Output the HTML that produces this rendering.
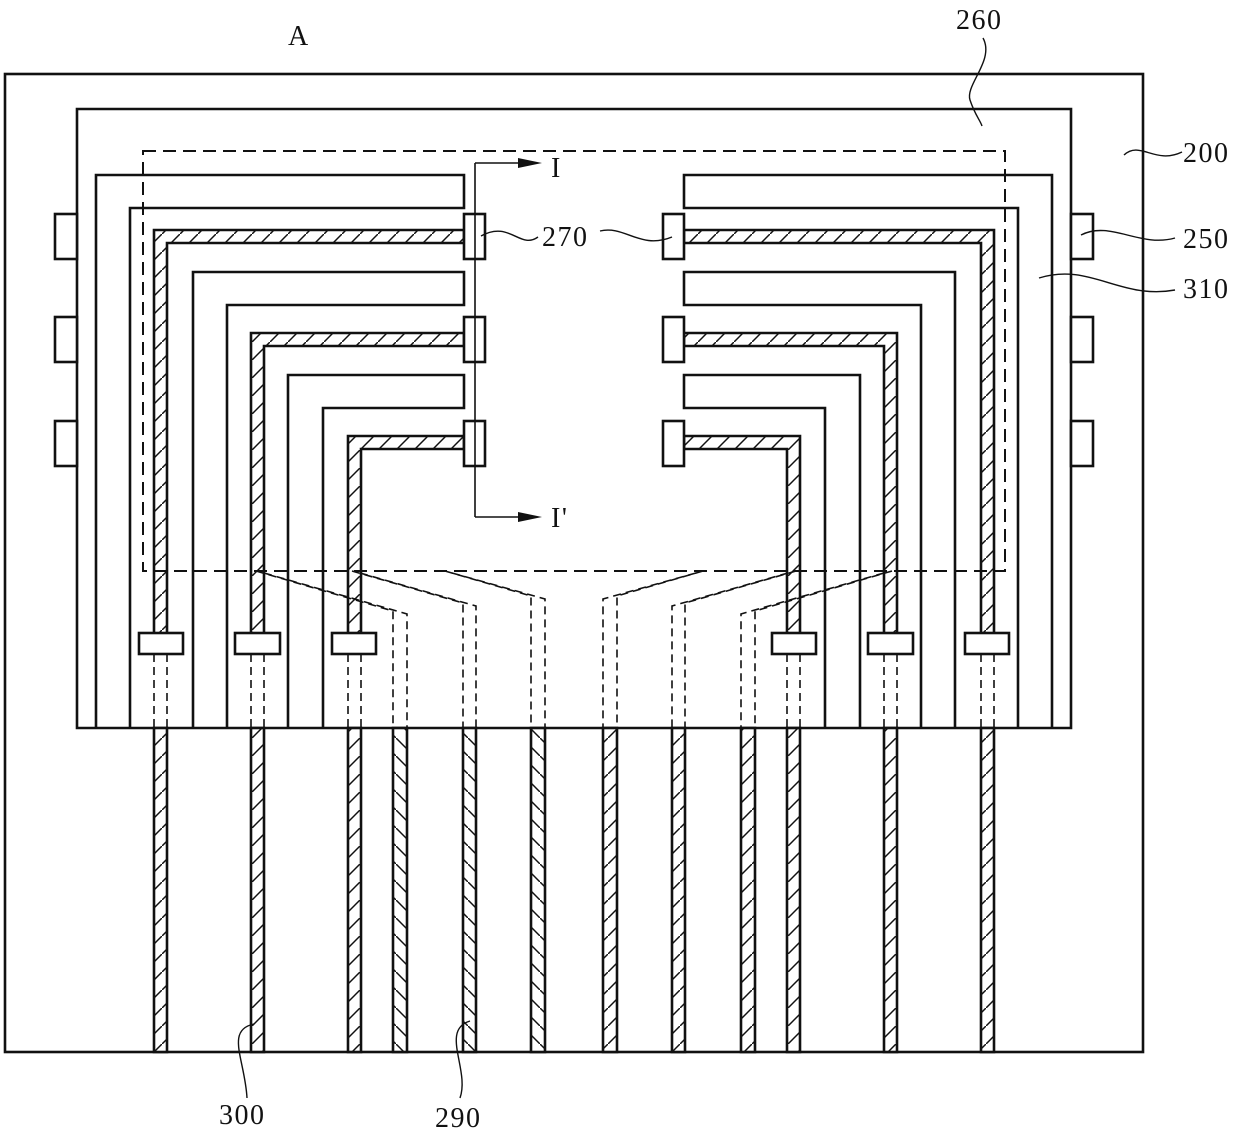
<!DOCTYPE html>
<html><head><meta charset="utf-8"><style>
html,body{margin:0;padding:0;background:#fff;}
svg{display:block;}
text{font-family:"Liberation Serif",serif;font-size:28px;letter-spacing:1.5px;fill:#111;}
</style></head><body>
<svg width="1240" height="1146" viewBox="0 0 1240 1146" xmlns="http://www.w3.org/2000/svg">
<defs>
<pattern id="hF" patternUnits="userSpaceOnUse" width="18" height="18">
<rect width="18" height="18" fill="#fff"/><path d="M-2,20 L20,-2" stroke="#111" stroke-width="1.5"/></pattern>
<pattern id="hB" patternUnits="userSpaceOnUse" width="18" height="18">
<rect width="18" height="18" fill="#fff"/><path d="M-2,-2 L20,20" stroke="#111" stroke-width="1.5"/></pattern>
<g id="half" stroke="#111">
 <path d="M96,728 V175 H464 V208 H130 V728" fill="none" stroke-width="2.6"/>
 <path d="M193,728 V272 H464 V305 H227 V728" fill="none" stroke-width="2.6"/>
 <path d="M288,728 V375 H464 V408 H323 V728" fill="none" stroke-width="2.6"/>
 <path d="M154,634 V230 H464 V243 H167 V634 Z" stroke-width="2.6"/>
 <path d="M251,634 V333 H464 V346 H264 V634 Z" stroke-width="2.6"/>
 <path d="M348,634 V436 H464 V449 H361 V634 Z" stroke-width="2.6"/>
 <rect x="464" y="214" width="21" height="45" fill="#fff" stroke-width="2.6"/>
 <rect x="464" y="317" width="21" height="45" fill="#fff" stroke-width="2.6"/>
 <rect x="464" y="421" width="21" height="45" fill="#fff" stroke-width="2.6"/>
 <rect x="55" y="214" width="22" height="45" fill="#fff" stroke-width="2.6"/>
 <rect x="55" y="317" width="22" height="45" fill="#fff" stroke-width="2.6"/>
 <rect x="55" y="421" width="22" height="45" fill="#fff" stroke-width="2.6"/>
 <rect x="139" y="633" width="44" height="21" fill="#fff" stroke-width="2.6"/>
 <rect x="235" y="633" width="45" height="21" fill="#fff" stroke-width="2.6"/>
 <rect x="332" y="633" width="44" height="21" fill="#fff" stroke-width="2.6"/>
 <g fill="none" stroke-width="1.6" stroke-dasharray="8,5">
  <path d="M154,654 V728 M167,654 V728 M251,654 V728 M264,654 V728 M348,654 V728 M361,654 V728"/>
  <path d="M256,571 L393,611 V728"/>
  <path d="M264,573 L407,614 V728"/>
  <path d="M352,571 L463,603 V728"/>
  <path d="M360,573 L476,606 V728"/>
  <path d="M445,571 L531,596 V728"/>
  <path d="M452,573 L545,599 V728"/>
 </g>
 <g stroke-width="2.6">
  <rect x="154" y="728" width="13" height="324"/>
  <rect x="251" y="728" width="13" height="324"/>
  <rect x="348" y="728" width="13" height="324"/>
 </g>
 <g stroke-width="2.6" fill="url(#hB)">
  <rect x="393" y="728" width="14" height="324"/>
  <rect x="463" y="728" width="13" height="324"/>
  <rect x="531" y="728" width="14" height="324"/>
 </g>
</g>
</defs>
<rect x="5" y="74" width="1138" height="978" fill="#fff" stroke="#111" stroke-width="2.6"/>
<path d="M77,728 V109 H1071 V728 Z" fill="none" stroke="#111" stroke-width="2.6"/>
<use href="#half" fill="url(#hF)"/>
<use href="#half" fill="url(#hB)" transform="translate(1148,0) scale(-1,1)"/>
<rect x="143" y="151" width="862" height="420" fill="none" stroke="#111" stroke-width="2" stroke-dasharray="13,7"/>
<path d="M475,163 V517 M475,163 H520 M475,517 H520" fill="none" stroke="#111" stroke-width="1.6"/>
<path d="M518,158 L542,163 L518,168 Z M518,512 L542,517 L518,522 Z" fill="#111"/>
<text x="551" y="177">I</text>
<text x="551" y="527">I'</text>
<text x="288" y="45">A</text>
<g fill="none" stroke="#111" stroke-width="1.4">
 <path d="M983,38 C995,60 965,85 970,100 C975,115 980,120 982,126"/>
 <path d="M1124,155 C1140,140 1155,165 1182,152"/>
 <path d="M1081,235 C1110,220 1140,248 1175,238"/>
 <path d="M1039,278 C1090,262 1120,300 1175,290"/>
 <path d="M481,236 C510,220 520,250 538,237"/>
 <path d="M600,231 C625,225 640,250 672,237"/>
 <path d="M254,1024 C225,1030 245,1060 247,1098"/>
 <path d="M470,1021 C440,1030 470,1070 460,1098"/>
</g>
<text x="956" y="29">260</text>
<text x="1183" y="162">200</text>
<text x="1183" y="248">250</text>
<text x="1183" y="298">310</text>
<text x="542" y="246">270</text>
<text x="219" y="1124">300</text>
<text x="435" y="1127">290</text>
</svg>
</body></html>
